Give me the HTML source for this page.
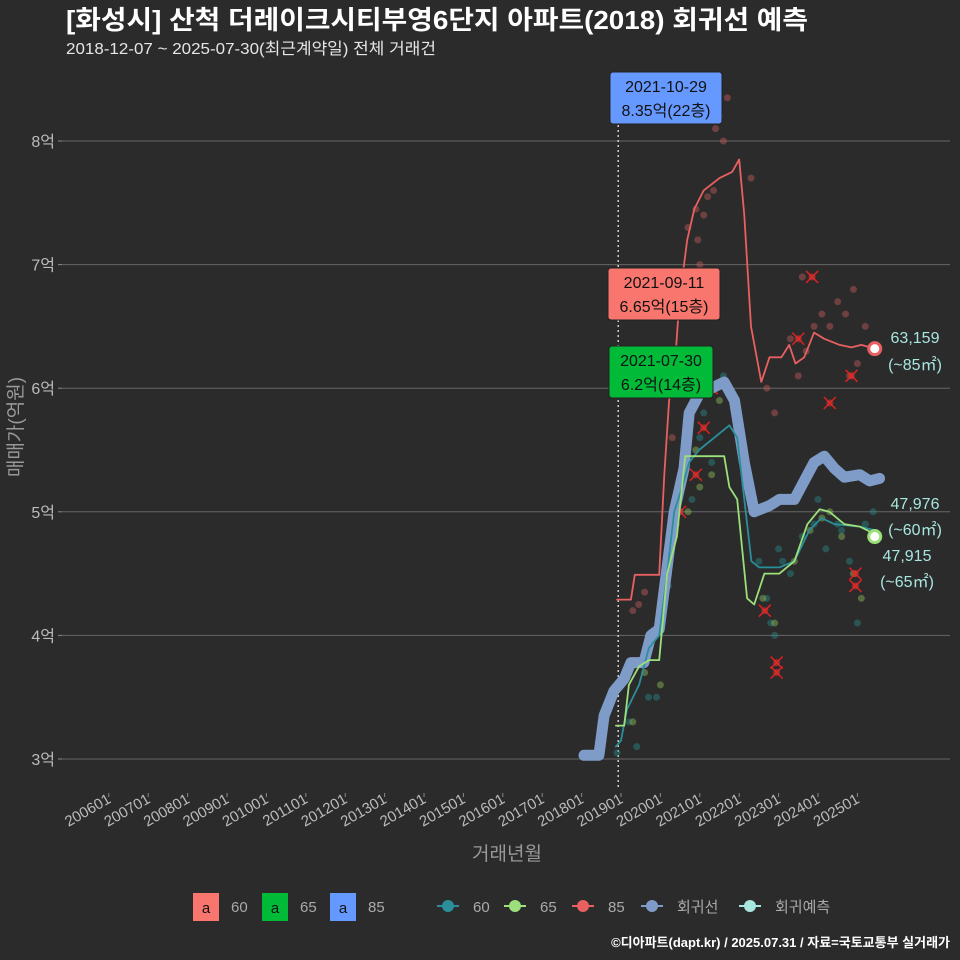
<!DOCTYPE html>
<html><head><meta charset="utf-8">
<style>
body{margin:0;background:#2b2b2b;}
svg{display:block;font-family:"Liberation Sans","Noto Sans CJK KR",sans-serif;}
</style></head>
<body>
<svg id="chart" width="960" height="960" viewBox="0 0 960 960">
<rect width="960" height="960" fill="#2b2b2b"/>
<text x="66" y="29" fill="#fff" font-size="26" font-weight="bold" textLength="742" lengthAdjust="spacingAndGlyphs">[화성시] 산척 더레이크시티부영6단지 아파트(2018) 회귀선 예측</text>
<text x="66" y="54" fill="#e6e6e6" font-size="16" textLength="370" lengthAdjust="spacingAndGlyphs">2018-12-07 ~ 2025-07-30(최근계약일) 전체 거래건</text>
<g id="grid"></g>
<g id="scatter"></g>
<g id="lines"></g>
<g id="ann"></g>
<text x="22" y="427" fill="#999" font-size="19" transform="rotate(-90 22 427)" text-anchor="middle">매매가(억원)</text>
<text x="507" y="860" fill="#999" font-size="19" text-anchor="middle">거래년월</text>
<g id="legend" font-size="15" fill="#aaa"></g>
<text x="950" y="947" fill="#fff" font-size="13" font-weight="bold" text-anchor="end">©디아파트(dapt.kr) / 2025.07.31 / 자료=국토교통부 실거래가</text>
</svg>
<script>
const yTicks=[3,4,5,6,7,8];
const xTickYears=[2006,2007,2008,2009,2010,2011,2012,2013,2014,2015,2016,2017,2018,2019,2020,2021,2022,2023,2024,2025];
const red85T=[2018.9,2019.25,2019.35,2019.97,2020.1,2020.22,2020.37,2020.48,2020.68,2020.86,2021.1,2021.5,2021.82,2022.0,2022.13,2022.3,2022.56,2022.77,2023.07,2023.27,2023.43,2023.65,2023.9,2024.16,2024.55,2024.85,2025.1,2025.44];
const red85V=[4.29,4.29,4.49,4.49,5.3,5.9,6.2,6.7,7.2,7.45,7.6,7.7,7.75,7.85,7.4,6.5,6.05,6.25,6.25,6.35,6.2,6.25,6.45,6.4,6.35,6.33,6.35,6.32];
const regT=[2018.06,2018.44,2018.57,2018.82,2019.08,2019.25,2019.58,2019.76,2019.97,2020.15,2020.35,2020.6,2020.73,2020.98,2021.3,2021.62,2021.88,2022.13,2022.38,2022.77,2023.02,2023.4,2023.65,2023.9,2024.16,2024.42,2024.67,2025.06,2025.31,2025.56];
const regV=[3.03,3.03,3.35,3.55,3.65,3.78,3.78,4.0,4.05,4.5,5.0,5.35,5.8,5.95,6.0,6.05,5.9,5.4,5.0,5.05,5.1,5.1,5.25,5.4,5.45,5.35,5.28,5.3,5.25,5.27];
const teal60T=[2018.87,2019.0,2019.15,2019.46,2019.71,2019.97,2020.17,2020.35,2020.55,2020.73,2020.98,2021.37,2021.75,2021.95,2022.13,2022.31,2022.51,2023.02,2023.4,2023.78,2024.09,2024.42,2025.06,2025.44];
const teal60V=[3.1,3.15,3.4,3.6,3.9,4.0,4.5,5.0,5.2,5.4,5.5,5.6,5.7,5.6,5.1,4.6,4.55,4.55,4.6,4.85,4.95,4.9,4.88,4.85];
const green65T=[2018.87,2019.08,2019.2,2019.46,2019.71,2019.97,2020.17,2020.42,2020.63,2020.98,2021.62,2021.75,2021.95,2022.2,2022.38,2022.64,2023.02,2023.4,2023.73,2024.04,2024.29,2024.67,2025.06,2025.44];
const green65V=[3.27,3.27,3.6,3.75,3.8,3.8,4.5,4.8,5.45,5.45,5.45,5.2,5.1,4.3,4.25,4.5,4.5,4.6,4.9,5.02,5.0,4.9,4.88,4.82];
const redDotsT=[2019.3,2019.45,2019.6,2020.3,2020.5,2020.7,2020.9,2021.0,2021.2,2021.4,2021.5,2021.6,2021.7,2022.3,2022.9,2023.3,2023.5,2023.7,2023.9,2024.1,2024.3,2024.5,2024.7,2024.9,2025.0,2025.2,2023.6,2024.8,2020.95,2021.1,2021.35,2022.7];
const redDotsV=[4.2,4.25,4.35,5.6,6.7,7.3,7.45,7.0,7.55,8.1,8.2,8.0,8.35,7.7,5.8,6.4,6.1,6.3,6.5,6.6,6.5,6.7,6.6,6.8,6.2,6.5,6.9,6.1,7.2,7.4,7.6,6.0];
const tealDotsT=[2018.9,2019.2,2019.4,2019.7,2019.9,2020.2,2020.5,2020.8,2021.0,2021.3,2021.6,2022.5,2022.7,2022.9,2023.1,2023.3,2023.6,2023.9,2024.2,2024.5,2024.8,2025.0,2025.2,2025.4,2024.0,2023.0,2020.6,2021.1,2022.8,2024.6];
const tealDotsV=[3.05,3.3,3.1,3.5,3.5,4.4,5.0,5.1,5.6,5.4,6.1,4.6,4.3,4.0,4.6,4.5,4.8,4.9,4.7,4.9,4.6,4.1,4.9,5.0,5.1,4.7,5.3,5.8,4.1,4.85];
const greenDotsT=[2019.3,2019.6,2020.0,2020.4,2020.7,2021.0,2021.3,2021.5,2022.6,2022.9,2023.4,2023.8,2024.1,2024.6,2024.9,2025.1,2020.9,2024.3];
const greenDotsV=[3.3,3.7,3.6,4.9,5.0,5.2,5.3,5.9,4.3,4.1,4.6,4.85,4.95,4.8,4.5,4.3,5.5,5.0];
const crossT=[2020.9,2021.1,2021.3,2022.65,2022.95,2022.95,2023.5,2023.85,2024.3,2024.85,2024.95,2024.95,2020.5];
const crossV=[5.3,5.68,6.0,4.2,3.7,3.78,6.4,6.9,5.88,6.1,4.5,4.4,5.0];

const NS='http://www.w3.org/2000/svg';
const X=t=>621+(t-2019)*39.4;
const Y=v=>759-(v-3)*123.6;
function mk(tag,attrs,parent){const e=document.createElementNS(NS,tag);for(const k in attrs)e.setAttribute(k,attrs[k]);document.getElementById(parent).appendChild(e);return e;}

yTicks.forEach(v=>{
  const l=mk('line',{x1:62,x2:950,y1:Y(v),y2:Y(v),stroke:'#666','stroke-width':1},'grid');
  
  
  const tk=mk('line',{x1:58,x2:62,y1:Y(v),y2:Y(v),stroke:'#888'},'grid');
  
  
  const t=mk('text',{x:55,y:Y(v)+6,fill:'#bbb','font-size':16,'text-anchor':'end'},'grid');
  t.textContent=v+'억';
  
  
});
xTickYears.forEach(yr=>{
  const x=X(yr);
  const tk=mk('line',{x1:x,x2:x,y1:793,y2:797,stroke:'#888'},'grid');
  
  
  const t=mk('text',{x:x+3,y:802,fill:'#bbb','font-size':15,'text-anchor':'end',transform:`rotate(-30 ${x+3} 802)`},'grid');
  t.textContent=yr+'01';
  
  
});
const vl=mk('line',{x1:X(2018.93),x2:X(2018.93),y1:95,y2:790,stroke:'#ccc','stroke-width':1.5,'stroke-dasharray':'2,3'},'grid');



function dots(T,V,col,name){T.forEach((t,i)=>{const c=mk('circle',{cx:X(t),cy:Y(V[i]),r:3.5,fill:col,'fill-opacity':0.45},'scatter');
  
  });}
dots(redDotsT,redDotsV,'#c25a5a','trade-dot-85');
dots(tealDotsT,tealDotsV,'#2a8a8a','trade-dot-60');
dots(greenDotsT,greenDotsV,'#8fbf5a','trade-dot-65');
crossT.forEach((t,i)=>{const x=X(t),y=Y(crossV[i]);
  const p=mk('path',{d:`M${x-6} ${y-6}L${x+6} ${y+6}M${x+6} ${y-6}L${x-6} ${y+6}`,stroke:'#e02020','stroke-width':1.5},'scatter');
  
  
  const c=mk('circle',{cx:x,cy:y,r:3.5,fill:'#e03030','fill-opacity':0.6},'scatter');
  
  });

function line(T,V,col,w,name){const d=T.map((t,i)=>(i?'L':'M')+X(t).toFixed(1)+' '+Y(V[i]).toFixed(1)).join('');
  const p=mk('path',{d:d,stroke:col,'stroke-width':w,fill:'none','stroke-linejoin':'round','stroke-linecap':'round'},'lines');
  
  }
line(regT,regV,'#7f9cc9',11,'regression-line');
line(red85T,red85V,'#e86060',1.8,'line-85');
line(teal60T,teal60V,'#2a8f9a',1.8,'line-60');
line(green65T,green65V,'#9be07a',1.8,'line-65');

function endDot(t,v,col,name){const c=mk('circle',{cx:X(t),cy:Y(v),r:6,fill:'#fff',stroke:col,'stroke-width':3},'ann');
  
  }
endDot(2025.44,6.32,'#e86060','end-point-85');
endDot(2025.44,4.8,'#9be07a','end-point-65');

function label(x,y,w,lines,bg,name){const g=mk('g',{},'ann');
  
  
  const r=document.createElementNS(NS,'rect');r.setAttribute('x',x);r.setAttribute('y',y);r.setAttribute('width',w);r.setAttribute('height',52);r.setAttribute('rx',3);r.setAttribute('fill',bg);r.setAttribute('stroke','#222');g.appendChild(r);
  lines.forEach((s,i)=>{const t=document.createElementNS(NS,'text');t.setAttribute('x',x+w/2);t.setAttribute('y',y+20+i*24);t.setAttribute('text-anchor','middle');t.setAttribute('font-size',16);t.setAttribute('fill','#111');t.textContent=s;g.appendChild(t);});}
label(610,72,112,['2021-10-29','8.35억(22층)'],'#6699ff','label-max-85');
label(608,268,112,['2021-09-11','6.65억(15층)'],'#f8766d','label-max-60');
label(609,346,104,['2021-07-30','6.2억(14층)'],'#00ba38','label-max-65');
function txt(x,y,s,name){const t=mk('text',{x:x,y:y,fill:'#a8e6e0','font-size':16,'text-anchor':'middle'},'ann');t.textContent=s;
  
  }
txt(915,343,'63,159','pred-85-value');txt(915,370,'(~85㎡)','pred-85-area');
txt(915,509,'47,976','pred-60-value');txt(915,535,'(~60㎡)','pred-60-area');
txt(907,561,'47,915','pred-65-value');txt(907,587,'(~65㎡)','pred-65-area');

const boxes=[['#f8766d','60',193],['#00ba38','65',262],['#6699ff','85',330]];
boxes.forEach(b=>{const r=mk('rect',{x:b[2],y:893,width:26,height:28,fill:b[0]},'legend');
  
  
  const a=mk('text',{x:b[2]+13,y:913,fill:'#111','font-size':15,'text-anchor':'middle'},'legend');a.textContent='a';
  
  
  const t=mk('text',{x:b[2]+38,y:912,fill:'#aaa','font-size':15},'legend');t.textContent=b[1];
  
  });
const pts=[['#2a8f9a','60',448],['#9be07a','65',515],['#e86060','85',583],['#7f9cc9','회귀선',652],['#a8e6e0','회귀예측',750]];
pts.forEach(p=>{const l=mk('line',{x1:p[2]-11,x2:p[2]+11,y1:906,y2:906,stroke:p[0],'stroke-width':2},'legend');
  
  
  const c=mk('circle',{cx:p[2],cy:906,r:6,fill:p[0]},'legend');
  
  
  const t=mk('text',{x:p[2]+25,y:912,fill:'#aaa','font-size':15},'legend');t.textContent=p[1];
  
  });
</script>
</body></html>
